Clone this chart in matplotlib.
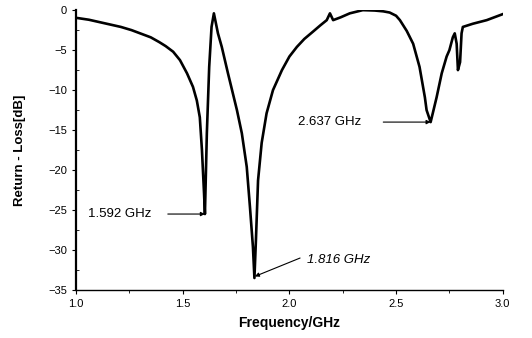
import matplotlib.pyplot as plt
from matplotlib.ticker import MultipleLocator

plt.rcParams['font.family'] = ['Liberation Sans', 'DejaVu Sans']

# return loss curve
freq = [1.01, 1.06, 1.11, 1.16, 1.21, 1.26, 1.30, 1.35, 1.39, 1.42, 1.455, 1.487, 1.52, 1.548,
        1.566, 1.58, 1.59, 1.60, 1.604,
        1.613, 1.624, 1.635, 1.646, 1.665, 1.683, 1.712, 1.754, 1.777, 1.80, 1.815,
        1.829, 1.836,
        1.843, 1.853, 1.87, 1.893, 1.923, 1.965, 2.0, 2.035, 2.07, 2.11, 2.145, 2.175,
        2.19, 2.205, 2.24, 2.283, 2.344, 2.40, 2.44, 2.47, 2.50, 2.518, 2.55, 2.58,
        2.61, 2.635, 2.643, 2.662, 2.672, 2.69, 2.714, 2.737,
        2.75, 2.766, 2.775, 2.784, 2.79, 2.80, 2.807, 2.813, 2.86, 2.925, 2.97, 3.0]
rl = [-1.0, -1.2, -1.5, -1.8, -2.1, -2.5, -2.9, -3.4, -4.0, -4.5, -5.2, -6.25, -7.9, -9.6,
      -11.3, -13.4, -17.5, -23.0, -25.5,
      -15.4, -7.1, -2.1, -0.4, -2.9, -4.6, -7.9, -12.5, -15.4, -19.6, -24.6,
      -29.6, -33.5,
      -28.8, -21.3, -16.6, -12.9, -10.0, -7.5, -5.8, -4.6, -3.6, -2.7, -1.9, -1.25,
      -0.4, -1.25, -0.9, -0.4, 0.0, -0.05, -0.15, -0.3, -0.7, -1.25, -2.6, -4.2,
      -7.1, -10.9, -12.5, -14.0, -12.9, -10.9, -7.9, -5.8,
      -5.0, -3.4, -2.9, -4.2, -7.5, -6.5, -2.9, -2.1, -1.7, -1.25, -0.8, -0.5]

peak_labels = ['1.592 GHz', '1.816 GHz', '2.637 GHz']
peak_x = [1.604, 1.838, 2.662]
peak_y = [-25.5, -33.3, -14.0]
text_x = [1.056, 2.082, 2.04]
text_y = [-25.5, -31.3, -14.0]
tail_x = [1.43, 2.05, 2.44]
tail_y = [-25.5, -31.0, -14.0]
styles = ['normal', 'italic', 'normal']

fig = plt.figure(figsize=(5.32, 3.38), dpi=100)
ax = fig.add_axes([0.143, 0.142, 0.802, 0.828])
ax.plot(freq, rl, color='black', lw=1.9)

for lab, px, py, tx, ty, hx, hy, st in zip(peak_labels, peak_x, peak_y, text_x, text_y,
                                            tail_x, tail_y, styles):
    ax.text(tx, ty, lab, fontsize=9.5, va='center', ha='left', style=st)
    ax.annotate('', xy=(px, py), xytext=(hx, hy),
                arrowprops=dict(arrowstyle='-|>', color='black', lw=0.8,
                                mutation_scale=6, shrinkA=0, shrinkB=0))

ax.set_xlim(1.0, 3.0)
ax.set_ylim(-35, 0)
ax.xaxis.set_major_locator(MultipleLocator(0.5))
ax.xaxis.set_minor_locator(MultipleLocator(0.25))
ax.yaxis.set_major_locator(MultipleLocator(5))
ax.yaxis.set_minor_locator(MultipleLocator(2.5))
ax.set_xticks([1.0, 1.5, 2.0, 2.5, 3.0])
ax.set_xticklabels(['1.0', '1.5', '2.0', '2.5', '3.0'])
ax.tick_params(axis='both', which='major', labelsize=8, length=3, direction='out', width=0.8)
ax.tick_params(axis='x', which='minor', length=2, direction='out')
ax.tick_params(axis='y', which='minor', length=2, direction='in')
ax.spines['top'].set_visible(False)
ax.spines['right'].set_visible(False)
ax.spines['left'].set_linewidth(1.6)
ax.spines['bottom'].set_linewidth(1.0)
ax.set_xlabel('Frequency/GHz', fontsize=10, fontweight='bold', labelpad=5)
ax.set_ylabel('Return - Loss[dB]', fontsize=9.5, fontweight='bold', labelpad=16)

fig.savefig('out.png', dpi=100)
